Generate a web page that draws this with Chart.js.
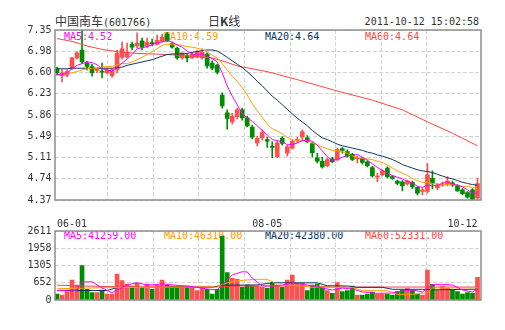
<!DOCTYPE html>
<html><head><meta charset="utf-8">
<script src="https://cdn.jsdelivr.net/npm/chart.js@4.4.0/dist/chart.umd.min.js"></script>
<style>
html,body{margin:0;padding:0;background:#fff;}
#wrap{position:relative;width:505px;height:330px;overflow:hidden;font-family:"DejaVu Sans Mono",monospace;}
canvas{position:absolute;left:0;top:0;}
.t{position:absolute;white-space:nowrap;font-size:10px;line-height:12px;}
.cjk{font-family:"Noto Sans CJK SC",sans-serif;font-size:12px;}
</style></head><body>
<div id="wrap">
  <div class="t" style="left:55px;top:14px;color:#333;line-height:14px"><span class="cjk">中国南车</span>(601766)</div>
  <div class="t" style="left:208px;top:14px;color:#333;line-height:14px"><span class="cjk">日<b>K</b>线</span></div>
  <div class="t" style="right:26px;top:15px;color:#333;line-height:14px">2011-10-12 15:02:58</div>
  <div class="t" style="left:64px;top:31px;color:#ff00ff">MA5:4.52</div>
  <div class="t" style="left:164px;top:31px;color:#ff9900">MA10:4.59</div>
  <div class="t" style="left:265px;top:31px;color:#0a3663">MA20:4.64</div>
  <div class="t" style="left:365px;top:31px;color:#ff4545">MA60:4.64</div>
  <div class="t" style="left:64px;top:230px;color:#ff00ff">MA5:41259.00</div>
  <div class="t" style="left:164px;top:230px;color:#ff9900">MA10:46310.00</div>
  <div class="t" style="left:265px;top:230px;color:#0a3663">MA20:42380.00</div>
  <div class="t" style="left:365px;top:230px;color:#ff4545">MA60:52331.00</div>
  <canvas id="main" width="505" height="330"></canvas>
  <canvas id="vol" width="505" height="330"></canvas>
</div>
<script>
const dates = [
'06-01','06-02','06-03','06-07','06-08','06-09','06-10','06-13','06-14','06-15','06-16','06-17','06-20','06-21','06-22','06-23','06-24',
'07-01','07-04','07-05','07-06','07-07','07-08','07-11','07-12','07-13','07-14','07-15','07-18','07-19','07-20','07-21','07-22',
'07-25','07-26','07-27','07-28','07-29','08-01','08-02','08-03','08-04','08-05',
'08-08','08-09','08-10','08-11','08-12','08-15','08-16','08-17','08-18','08-19','08-22','08-23','08-24','08-25','08-26','08-29','08-30','08-31',
'09-01','09-02','09-05','09-06','09-07','09-08','09-09','09-13','09-14','09-15','09-16','09-19','09-20','09-21','09-22','09-23','09-26','09-27','09-28','09-29','09-30',
'10-10','10-11','10-12'];
const xTickLabels = ['06-01','08-05','10-12'];

const openP = [6.67,6.55,6.56,6.68,6.86,7.00,6.77,6.71,6.64,6.63, 6.60,6.55,6.65,6.87,6.88,7.10,7.07,7.16,7.07,7.12,
  7.10,7.15,7.28,7.11,7.03,6.86,6.90,6.86,6.88,6.86, 6.93,6.77,6.73,6.21,5.90,5.74,5.83,5.95,5.81,5.65,
  5.37,5.46,5.43,5.31,5.13,5.45,5.19,5.28,5.41,5.47, 5.46,5.36,5.11,5.05,4.97,5.09,5.08,5.27,5.22,5.17,
  5.09,5.10,5.04,4.94,4.77,4.81,4.93,4.78,4.70,4.69, 4.65,4.68,4.59,4.52,4.52,4.75,4.58,4.63,4.65,4.67,
  4.62,4.55,4.50,4.55,4.40];
const highP = [6.70,6.65,6.65,6.87,6.97,7.35,6.80,6.75,6.68,6.77, 6.67,6.67,7.00,7.14,7.12,7.14,7.30,7.21,7.21,7.19,
  7.26,7.28,7.31,7.13,7.05,6.95,6.93,6.95,6.99,7.02, 6.95,6.81,6.75,6.25,5.95,5.89,5.98,5.98,5.84,5.68,
  5.49,5.60,5.47,5.39,5.40,5.48,5.33,5.42,5.47,5.60, 5.50,5.38,5.19,5.12,5.10,5.12,5.28,5.29,5.25,5.19,
  5.14,5.12,5.06,4.96,4.84,4.90,4.95,4.80,4.72,4.71, 4.72,4.70,4.60,4.58,5.01,4.88,4.66,4.69,4.78,4.70,
  4.64,4.57,4.52,4.57,4.75];
const lowP = [6.56,6.44,6.53,6.66,6.84,6.76,6.65,6.54,6.60,6.51, 6.58,6.52,6.60,6.84,6.86,7.00,7.04,7.00,7.04,7.07,
  7.09,7.14,7.15,7.03,6.84,6.84,6.79,6.85,6.86,6.84, 6.68,6.65,6.58,5.98,5.61,5.70,5.79,5.77,5.65,5.44,
  5.32,5.42,5.29,5.11,5.11,5.33,5.14,5.26,5.37,5.42, 5.38,5.12,5.02,4.93,4.95,5.02,5.06,5.19,5.12,5.06,
  5.02,5.00,4.95,4.77,4.69,4.79,4.76,4.73,4.64,4.53, 4.63,4.57,4.46,4.46,4.49,4.57,4.55,4.61,4.62,4.61,
  4.52,4.46,4.40,4.37,4.37];
const closeP = [6.60,6.60,6.62,6.86,6.95,6.79,6.71,6.60,6.66,6.61, 6.65,6.65,6.94,7.02,6.96,7.05,7.12,7.05,7.14,7.11,
  7.17,7.22,7.16,7.05,6.86,6.95,6.86,6.93,6.97,6.96, 6.72,6.68,6.61,6.02,5.80,5.84,5.95,5.81,5.67,5.47,
  5.45,5.55,5.40,5.29,5.37,5.36,5.30,5.40,5.43,5.57, 5.39,5.20,5.05,4.95,5.08,5.04,5.26,5.24,5.14,5.08,
  5.11,5.03,4.97,4.79,4.79,4.88,4.78,4.75,4.66,4.62, 4.70,4.60,4.49,4.55,4.81,4.66,4.63,4.65,4.70,4.63,
  4.53,4.48,4.42,4.38,4.66];

const ma5 = [6.57,6.56,6.60,6.67,6.73,6.76,6.79,6.78,6.74,6.67, 6.65,6.63,6.70,6.77,6.84,6.92,7.02,7.04,7.06,7.09,
  7.12,7.14,7.16,7.14,7.09,7.05,6.98,6.93,6.91,6.93, 6.89,6.85,6.79,6.60,6.37,6.19,6.04,5.88,5.81,5.75,
  5.67,5.59,5.51,5.43,5.41,5.39,5.34,5.34,5.37,5.41, 5.42,5.40,5.33,5.23,5.13,5.06,5.08,5.12,5.15,5.15,
  5.17,5.12,5.07,5.00,4.94,4.89,4.84,4.80,4.77,4.74, 4.70,4.67,4.61,4.59,4.63,4.62,4.63,4.66,4.69,4.65,
  4.63,4.60,4.55,4.49,4.49];
const ma10 = [6.56,6.55,6.58,6.60,6.62,6.65,6.67,6.68,6.68,6.70, 6.71,6.71,6.74,6.76,6.76,6.79,6.83,6.87,6.92,6.97,
  7.02,7.08,7.10,7.10,7.09,7.08,7.06,7.05,7.03,7.01, 6.97,6.91,6.86,6.76,6.65,6.54,6.45,6.34,6.21,6.06,
  5.93,5.82,5.70,5.62,5.58,5.53,5.47,5.43,5.40,5.41, 5.41,5.37,5.34,5.30,5.27,5.24,5.24,5.22,5.19,5.14,
  5.12,5.10,5.09,5.08,5.05,5.03,4.98,4.93,4.88,4.84, 4.80,4.75,4.71,4.68,4.68,4.66,4.65,4.64,4.64,4.64,
  4.63,4.61,4.61,4.59,4.57];
const ma20 = [6.67,6.67,6.67,6.68,6.68,6.68,6.68,6.68,6.68,6.68, 6.68,6.68,6.69,6.70,6.73,6.75,6.77,6.79,6.81,6.83,
  6.86,6.89,6.92,6.93,6.93,6.93,6.94,6.96,6.97,6.99, 7.00,7.00,6.98,6.93,6.87,6.81,6.75,6.69,6.62,6.54,
  6.45,6.37,6.28,6.19,6.12,6.04,5.96,5.88,5.80,5.74, 5.67,5.59,5.52,5.46,5.43,5.39,5.35,5.32,5.30,5.28,
  5.26,5.24,5.21,5.19,5.16,5.14,5.11,5.08,5.04,4.99, 4.96,4.93,4.90,4.88,4.87,4.85,4.82,4.79,4.76,4.74,
  4.71,4.68,4.66,4.64,4.63];
// MA60 read at selected candles: [candle index, value]
const ma60 = [[0,7.20],[3,7.15],[6,7.07],[9,7.01],[12,6.97],[16,6.94],[22,6.92],[27,6.89],[31,6.86],[33,6.81],
  [36,6.72],[42,6.62],[48,6.48],[56,6.28],[63,6.12],[69,5.95],[74,5.74],[79,5.54],[84,5.32]];

const volume = [227,189,314,757,568,1298,404,277,277,378, 227,227,984,731,605,530,631,479,605,404,
  568,757,568,530,530,530,530,479,353,479, 404,227,404,2422,1034,820,782,479,568,530,
  530,479,441,656,530,479,757,946,631,631, 353,568,605,479,353,252,656,314,353,530,
  189,189,214,303,214,214,214,189,314,378, 429,378,227,189,1135,593,378,530,441,404,
  314,227,277,252,858];
const volMa5 = [[0,360],[4,378],[5,680],[7,690],[9,455],[11,276],[12,378],[14,568],[16,656],[18,568],[21,605],
  [24,556],[27,510],[30,416],[32,378],[33,568],[35,946],[37,1070],[38,1060],[39,832],[40,680],[41,530],[43,530],
  [45,568],[47,643],[49,605],[52,492],[55,378],[57,450],[59,416],[61,303],[64,252],[67,265],[69,340],[71,378],
  [73,303],[75,580],[77,594],[79,568],[81,378],[83,303],[84,412]];
const volMa10 = [[0,428],[11,470],[21,480],[32,490],[33,590],[35,700],[38,760],[40,780],[42,782],[43,693],[44,560],
  [49,530],[51,480],[59,480],[61,353],[66,353],[68,214],[71,214],[74,277],[75,454],[84,463]];
const volMa20 = [[0,353],[10,360],[12,470],[31,480],[33,560],[40,570],[43,650],[52,650],[54,540],[58,530],[60,480],
  [65,480],[67,404],[73,404],[75,385],[84,410]];
const volMa60 = [[0,565],[3,540],[12,500],[33,500],[36,530],[52,530],[55,490],[84,490]];

const priceTicks = [4.37,4.7425,5.115,5.4875,5.86,6.2325,6.605,6.9775,7.35];
const priceTickLabels = ['4.37','4.74','5.11','5.49','5.86','6.23','6.60','6.98','7.35'];
const volTicks = [0,652,1305,1958,2611];

const UP = '#ff5050', DOWN = '#008c00';
const C_MA5 = '#ff00ff', C_MA10 = '#ffa000', C_MA20 = '#0a3663', C_MA60 = '#ff4545';
const GRID = '#d2d2d2';
const candleColors = closeP.map((c, i) => c >= openP[i] ? UP : DOWN);
const pts = arr => arr.map(([i, v]) => ({x: dates[i], y: v}));

const frame = {id:'frame', afterDraw(c){
  const {ctx, chartArea:a} = c; ctx.save(); ctx.strokeStyle = '#8e8e8e'; ctx.lineWidth = 1.5;
  ctx.strokeRect(Math.round(a.left), Math.round(a.top), Math.round(a.right - a.left), Math.round(a.bottom - a.top)); ctx.restore();
}};
const lineDs = (data, color) => ({type:'line', data, borderColor:color, borderWidth:1, pointRadius:0, tension:0, spanGaps:true, order:1});
const gridAxis = () => ({type:'linear', position:'bottom', min:0, max:8,
  afterBuildTicks: s => { s.ticks = [1,2,3,4,5,6,7].map(v => ({value:v})); },
  afterFit: s => { s.height = 0; },
  ticks:{display:false}, grid:{color:GRID, drawTicks:false, lineWidth:1}, border:{display:false, dash:[4,2]}});
const tickFont = {family:'DejaVu Sans Mono', size:10};

Chart.defaults.animation = false;

new Chart(document.getElementById('main'), {
  type:'bar',
  data:{labels:dates, datasets:[
    lineDs(ma5, C_MA5), lineDs(ma10, C_MA10), lineDs(ma20, C_MA20), lineDs(pts(ma60), C_MA60),
    {type:'bar', data: openP.map((o, i) => [o, closeP[i]]), backgroundColor:candleColors, barThickness:4, grouped:false, minBarLength:1, order:2},
    {type:'bar', data: lowP.map((l, i) => [l, highP[i]]), backgroundColor:candleColors, barThickness:1, grouped:false, order:3}
  ]},
  options:{responsive:false, maintainAspectRatio:false, events:[],
    layout:{padding:{top:30, right:25, bottom:100, left:0}},
    plugins:{legend:{display:false}, tooltip:{enabled:false}},
    scales:{
      x:{type:'category', offset:true, weight:2,
        afterFit: s => { s.height = 30; },
        grid:{display:false}, border:{display:false},
        ticks:{autoSkip:false, maxRotation:0, minRotation:0, align:'inner', padding:10, color:'#333', font:tickFont,
          callback:(v, i) => xTickLabels.includes(dates[i]) ? dates[i] : ''}},
      xg: gridAxis(),
      y:{min:4.37, max:7.35,
        afterBuildTicks: s => { s.ticks = priceTicks.map(v => ({value:v})); },
        afterFit: s => { s.width = 54.5; },
        ticks:{color:'#333', font:tickFont, padding:3, callback:(v, i) => priceTickLabels[i]},
        grid:{color:GRID, drawTicks:false}, border:{display:false, dash:[4,2]}}
    }},
  plugins:[frame]
});

new Chart(document.getElementById('vol'), {
  type:'bar',
  data:{labels:dates, datasets:[
    lineDs(pts(volMa5), C_MA5), lineDs(pts(volMa10), C_MA10), lineDs(pts(volMa20), C_MA20), lineDs(pts(volMa60), C_MA60),
    {type:'bar', data:volume, backgroundColor:candleColors, barThickness:4, grouped:false, order:2}
  ]},
  options:{responsive:false, maintainAspectRatio:false, events:[],
    layout:{padding:{top:231, right:25, bottom:30, left:0}},
    plugins:{legend:{display:false}, tooltip:{enabled:false}},
    scales:{
      x:{type:'category', offset:true, display:false},
      xg: gridAxis(),
      y:{min:0, max:2611,
        afterBuildTicks: s => { s.ticks = volTicks.map(v => ({value:v})); },
        afterFit: s => { s.width = 54.5; },
        ticks:{color:'#333', font:tickFont, padding:3, callback:(v) => String(v)},
        grid:{color:GRID, drawTicks:false}, border:{display:false, dash:[4,2]}}
    }},
  plugins:[frame]
});
</script>
</body></html>
